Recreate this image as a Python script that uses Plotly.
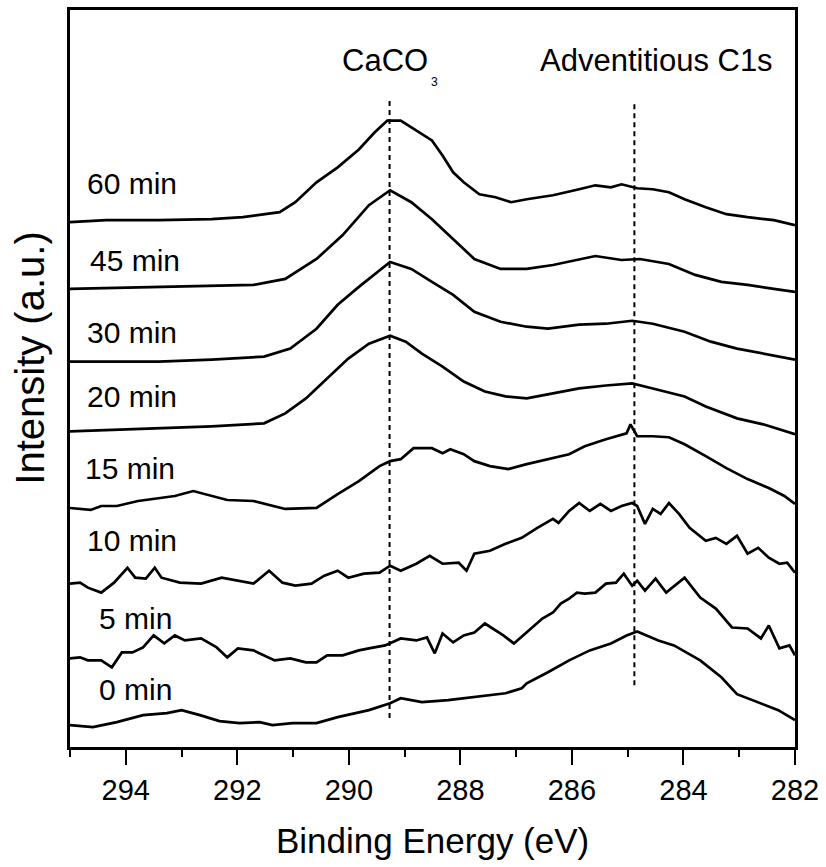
import plotly.graph_objects as go

# ---- data (binding energy in eV, intensity in stacked arbitrary units) ----
e_60 = [295.0, 294.35, 293.41, 292.46, 291.90, 291.24, 290.96, 290.58, 290.20, 289.82, 289.54, 289.31, 289.07, 288.79, 288.51, 288.32, 288.13, 287.94, 287.66, 287.37, 287.09, 286.81, 286.34, 285.87, 285.58, 285.30, 285.11, 284.83, 284.55, 284.26, 283.98, 283.60, 283.23, 282.85, 282.38, 282.00]
i_60 = [527, 529, 529, 530, 532, 537, 547, 567, 582, 600, 617, 629, 629, 619, 609, 594, 577, 567, 555, 552, 547, 550, 554, 560, 564, 562, 565, 561, 560, 557, 550, 542, 535, 532, 529, 524]

e_45 = [295.0, 293.41, 291.71, 291.14, 290.58, 290.11, 289.64, 289.26, 288.88, 288.51, 288.13, 287.75, 287.28, 286.81, 286.34, 285.87, 285.58, 285.11, 284.78, 284.26, 283.79, 283.32, 282.85, 282.38, 282.00]
i_45 = [460, 462, 464, 470, 490, 514, 544, 559, 547, 530, 510, 490, 480, 480, 484, 490, 493, 489, 490, 485, 474, 467, 464, 460, 457]

e_30 = [295.0, 293.41, 292.46, 291.52, 291.05, 290.58, 290.20, 289.82, 289.26, 288.88, 288.51, 288.13, 287.75, 287.28, 286.81, 286.43, 285.87, 285.39, 284.92, 284.55, 283.98, 283.51, 283.04, 282.57, 282.00]
i_30 = [387, 387, 389, 392, 400, 420, 444, 462, 487, 480, 467, 454, 437, 427, 422, 420, 424, 425, 428, 425, 417, 407, 400, 395, 389]

e_20 = [295.0, 293.41, 292.46, 291.52, 291.14, 290.77, 290.39, 290.01, 289.64, 289.26, 288.98, 288.69, 288.32, 287.94, 287.56, 287.19, 286.81, 286.34, 285.87, 285.39, 284.92, 284.55, 283.98, 283.60, 283.04, 282.57, 282.00]
i_20 = [317, 320, 322, 325, 335, 350, 370, 390, 405, 413, 407, 395, 382, 367, 357, 352, 350, 355, 360, 363, 365, 360, 352, 342, 330, 324, 314]

e_15 = [295.0, 294.63, 294.44, 294.16, 293.78, 293.41, 293.12, 292.79, 292.46, 292.18, 291.71, 291.33, 291.14, 290.58, 290.20, 289.82, 289.45, 289.26, 289.07, 288.84, 288.51, 288.32, 288.18, 287.94, 287.75, 287.47, 287.14, 286.81, 286.43, 286.05, 285.77, 285.39, 285.02, 284.95, 284.83, 284.55, 284.26, 283.98, 283.60, 283.23, 282.85, 282.47, 282.19, 282.00]
i_15 = [240, 238, 242, 242, 247, 250, 252, 257, 252, 248, 247, 242, 239, 240, 254, 267, 282, 287, 289, 300, 300, 295, 299, 294, 287, 282, 279, 284, 289, 294, 302, 309, 315, 324, 312, 312, 311, 304, 292, 280, 269, 260, 252, 244]

e_10 = [295.0, 294.82, 294.68, 294.44, 294.21, 293.97, 293.83, 293.64, 293.48, 293.36, 293.03, 292.65, 292.28, 291.99, 291.71, 291.43, 291.19, 290.96, 290.67, 290.44, 290.20, 290.01, 289.73, 289.45, 289.26, 289.07, 288.79, 288.55, 288.32, 288.03, 287.89, 287.75, 287.47, 287.19, 286.90, 286.62, 286.34, 286.24, 286.05, 285.87, 285.68, 285.49, 285.30, 285.11, 284.92, 284.83, 284.69, 284.55, 284.41, 284.26, 284.08, 283.89, 283.60, 283.42, 283.23, 283.04, 282.85, 282.66, 282.47, 282.28, 282.14, 282.00]
i_10 = [164, 165, 160, 155, 165, 180, 170, 169, 180, 170, 165, 164, 170, 167, 164, 177, 165, 162, 164, 172, 177, 170, 174, 175, 182, 177, 184, 192, 184, 185, 177, 194, 197, 204, 210, 220, 229, 225, 237, 245, 237, 244, 237, 242, 245, 242, 224, 239, 234, 245, 234, 220, 207, 210, 204, 212, 194, 200, 190, 184, 185, 175]

e_5 = [295.0, 294.82, 294.68, 294.44, 294.25, 294.07, 293.88, 293.69, 293.50, 293.31, 293.12, 292.94, 292.65, 292.37, 292.18, 291.99, 291.71, 291.52, 291.33, 291.05, 290.77, 290.58, 290.39, 290.11, 289.82, 289.64, 289.35, 289.07, 288.79, 288.60, 288.46, 288.32, 288.13, 287.94, 287.75, 287.56, 287.37, 287.23, 287.04, 286.81, 286.53, 286.34, 286.20, 286.05, 285.91, 285.77, 285.58, 285.39, 285.21, 285.07, 284.92, 284.83, 284.69, 284.50, 284.31, 283.98, 283.70, 283.42, 283.13, 282.85, 282.61, 282.47, 282.28, 282.10, 282.00]
i_5 = [89, 90, 87, 87, 80, 95, 95, 100, 112, 104, 112, 107, 109, 100, 90, 99, 97, 92, 87, 89, 85, 85, 92, 92, 97, 99, 102, 109, 107, 110, 94, 114, 105, 112, 115, 124, 117, 112, 104, 115, 129, 135, 144, 149, 155, 154, 155, 164, 165, 174, 162, 167, 157, 169, 155, 170, 150, 139, 120, 119, 109, 122, 99, 102, 92]

e_0 = [295.0, 294.59, 294.16, 293.69, 293.26, 293.00, 292.67, 292.32, 291.96, 291.60, 291.37, 291.01, 290.58, 290.20, 289.64, 289.26, 289.07, 288.69, 288.22, 287.75, 287.19, 286.90, 286.81, 286.43, 286.05, 285.68, 285.30, 285.02, 284.83, 284.45, 284.17, 283.70, 283.32, 283.04, 282.66, 282.30, 282.00]
i_0 = [22, 20, 25, 32, 34, 37, 32, 26, 24, 25, 22, 24, 24, 30, 37, 44, 49, 45, 47, 50, 54, 59, 64, 75, 87, 97, 104, 112, 116, 107, 102, 87, 70, 53, 45, 37, 27]

series_e = [e_60, e_45, e_30, e_20, e_15, e_10, e_5, e_0]
series_i = [i_60, i_45, i_30, i_20, i_15, i_10, i_5, i_0]
series_names = ["60 min", "45 min", "30 min", "20 min", "15 min", "10 min", "5 min", "0 min"]
label_x = [294.73, 294.68, 294.73, 294.73, 294.77, 294.73, 294.52, 294.52]
label_y = [566, 488, 416, 352, 280, 207, 129, 58]

ref_lines_e = [289.27, 284.88]
ref_lines_top = [650, 648]
ref_lines_bottom = [29, 62]

major_ticks = [294, 292, 290, 288, 286, 284, 282]
minor_ticks = [295, 293, 291, 289, 287, 285, 283]

FONT = "Liberation Sans, Arial, sans-serif"

fig = go.Figure()
for e, i, n in zip(series_e, series_i, series_names):
    fig.add_trace(go.Scatter(x=e, y=i, mode="lines", name=n,
                             line=dict(color="black", width=2.7),
                             showlegend=False, hoverinfo="skip"))

# invisible helper trace so the minor-tick overlay axis is drawn
fig.add_trace(go.Scatter(x=[minor_ticks[0]], y=[0], xaxis="x2", mode="markers",
                         marker=dict(opacity=0), showlegend=False, hoverinfo="skip"))

for xe, y0, y1 in zip(ref_lines_e, ref_lines_bottom, ref_lines_top):
    fig.add_shape(type="line", x0=xe, x1=xe, y0=y0, y1=y1, xref="x", yref="y",
                  line=dict(color="black", width=2, dash="5px,4px"))

annotations = []
for n, lx, ly in zip(series_names, label_x, label_y):
    annotations.append(dict(x=lx, y=ly, xref="x", yref="y", text=n, showarrow=False,
                            xanchor="left", yanchor="middle",
                            font=dict(family=FONT, size=30, color="black")))

annotations += [
    dict(x=289.35, y=689, xref="x", yref="y", text="CaCO", showarrow=False,
         xanchor="center", yanchor="middle", font=dict(family=FONT, size=31, color="black")),
    dict(x=288.47, y=668, xref="x", yref="y", text="3", showarrow=False,
         xanchor="center", yanchor="middle", font=dict(family=FONT, size=12, color="black")),
    dict(x=284.49, y=689, xref="x", yref="y", text="Adventitious C1s", showarrow=False,
         xanchor="center", yanchor="middle", font=dict(family=FONT, size=31, color="black")),
    dict(x=-0.0564, y=0.527, xref="paper", yref="paper", text="Intensity (a.u.)",
         textangle=-90, showarrow=False, xanchor="center", yanchor="middle",
         font=dict(family=FONT, size=40, color="black")),
    dict(x=0.5, y=-0.127, xref="paper", yref="paper", text="Binding Energy (eV)",
         showarrow=False, xanchor="center", yanchor="middle",
         font=dict(family=FONT, size=35, color="black")),
]

fig.update_layout(
    width=826, height=867,
    margin=dict(l=70, r=29, t=7, b=120),
    paper_bgcolor="white", plot_bgcolor="white",
    annotations=annotations,
    font=dict(family=FONT, color="black"),
    xaxis=dict(
        range=[295, 282], autorange=False,
        showline=True, linewidth=2.5, linecolor="black", mirror=True,
        showgrid=False, zeroline=False,
        tickmode="array", tickvals=major_ticks, ticktext=[str(v) for v in major_ticks],
        ticks="outside", ticklen=15, tickwidth=2, tickcolor="black",
        tickfont=dict(family=FONT, size=29, color="black"),
    ),
    xaxis2=dict(
        range=[295, 282], autorange=False, overlaying="x", side="bottom", anchor="y",
        showline=False, showgrid=False, zeroline=False, showticklabels=False,
        tickmode="array", tickvals=minor_ticks,
        ticks="outside", ticklen=9, tickwidth=2, tickcolor="black",
    ),
    yaxis=dict(
        range=[0, 740], autorange=False,
        showline=True, linewidth=2.5, linecolor="black", mirror=True,
        showgrid=False, zeroline=False, showticklabels=False, ticks="",
    ),
)

fig.write_html("out.html")
